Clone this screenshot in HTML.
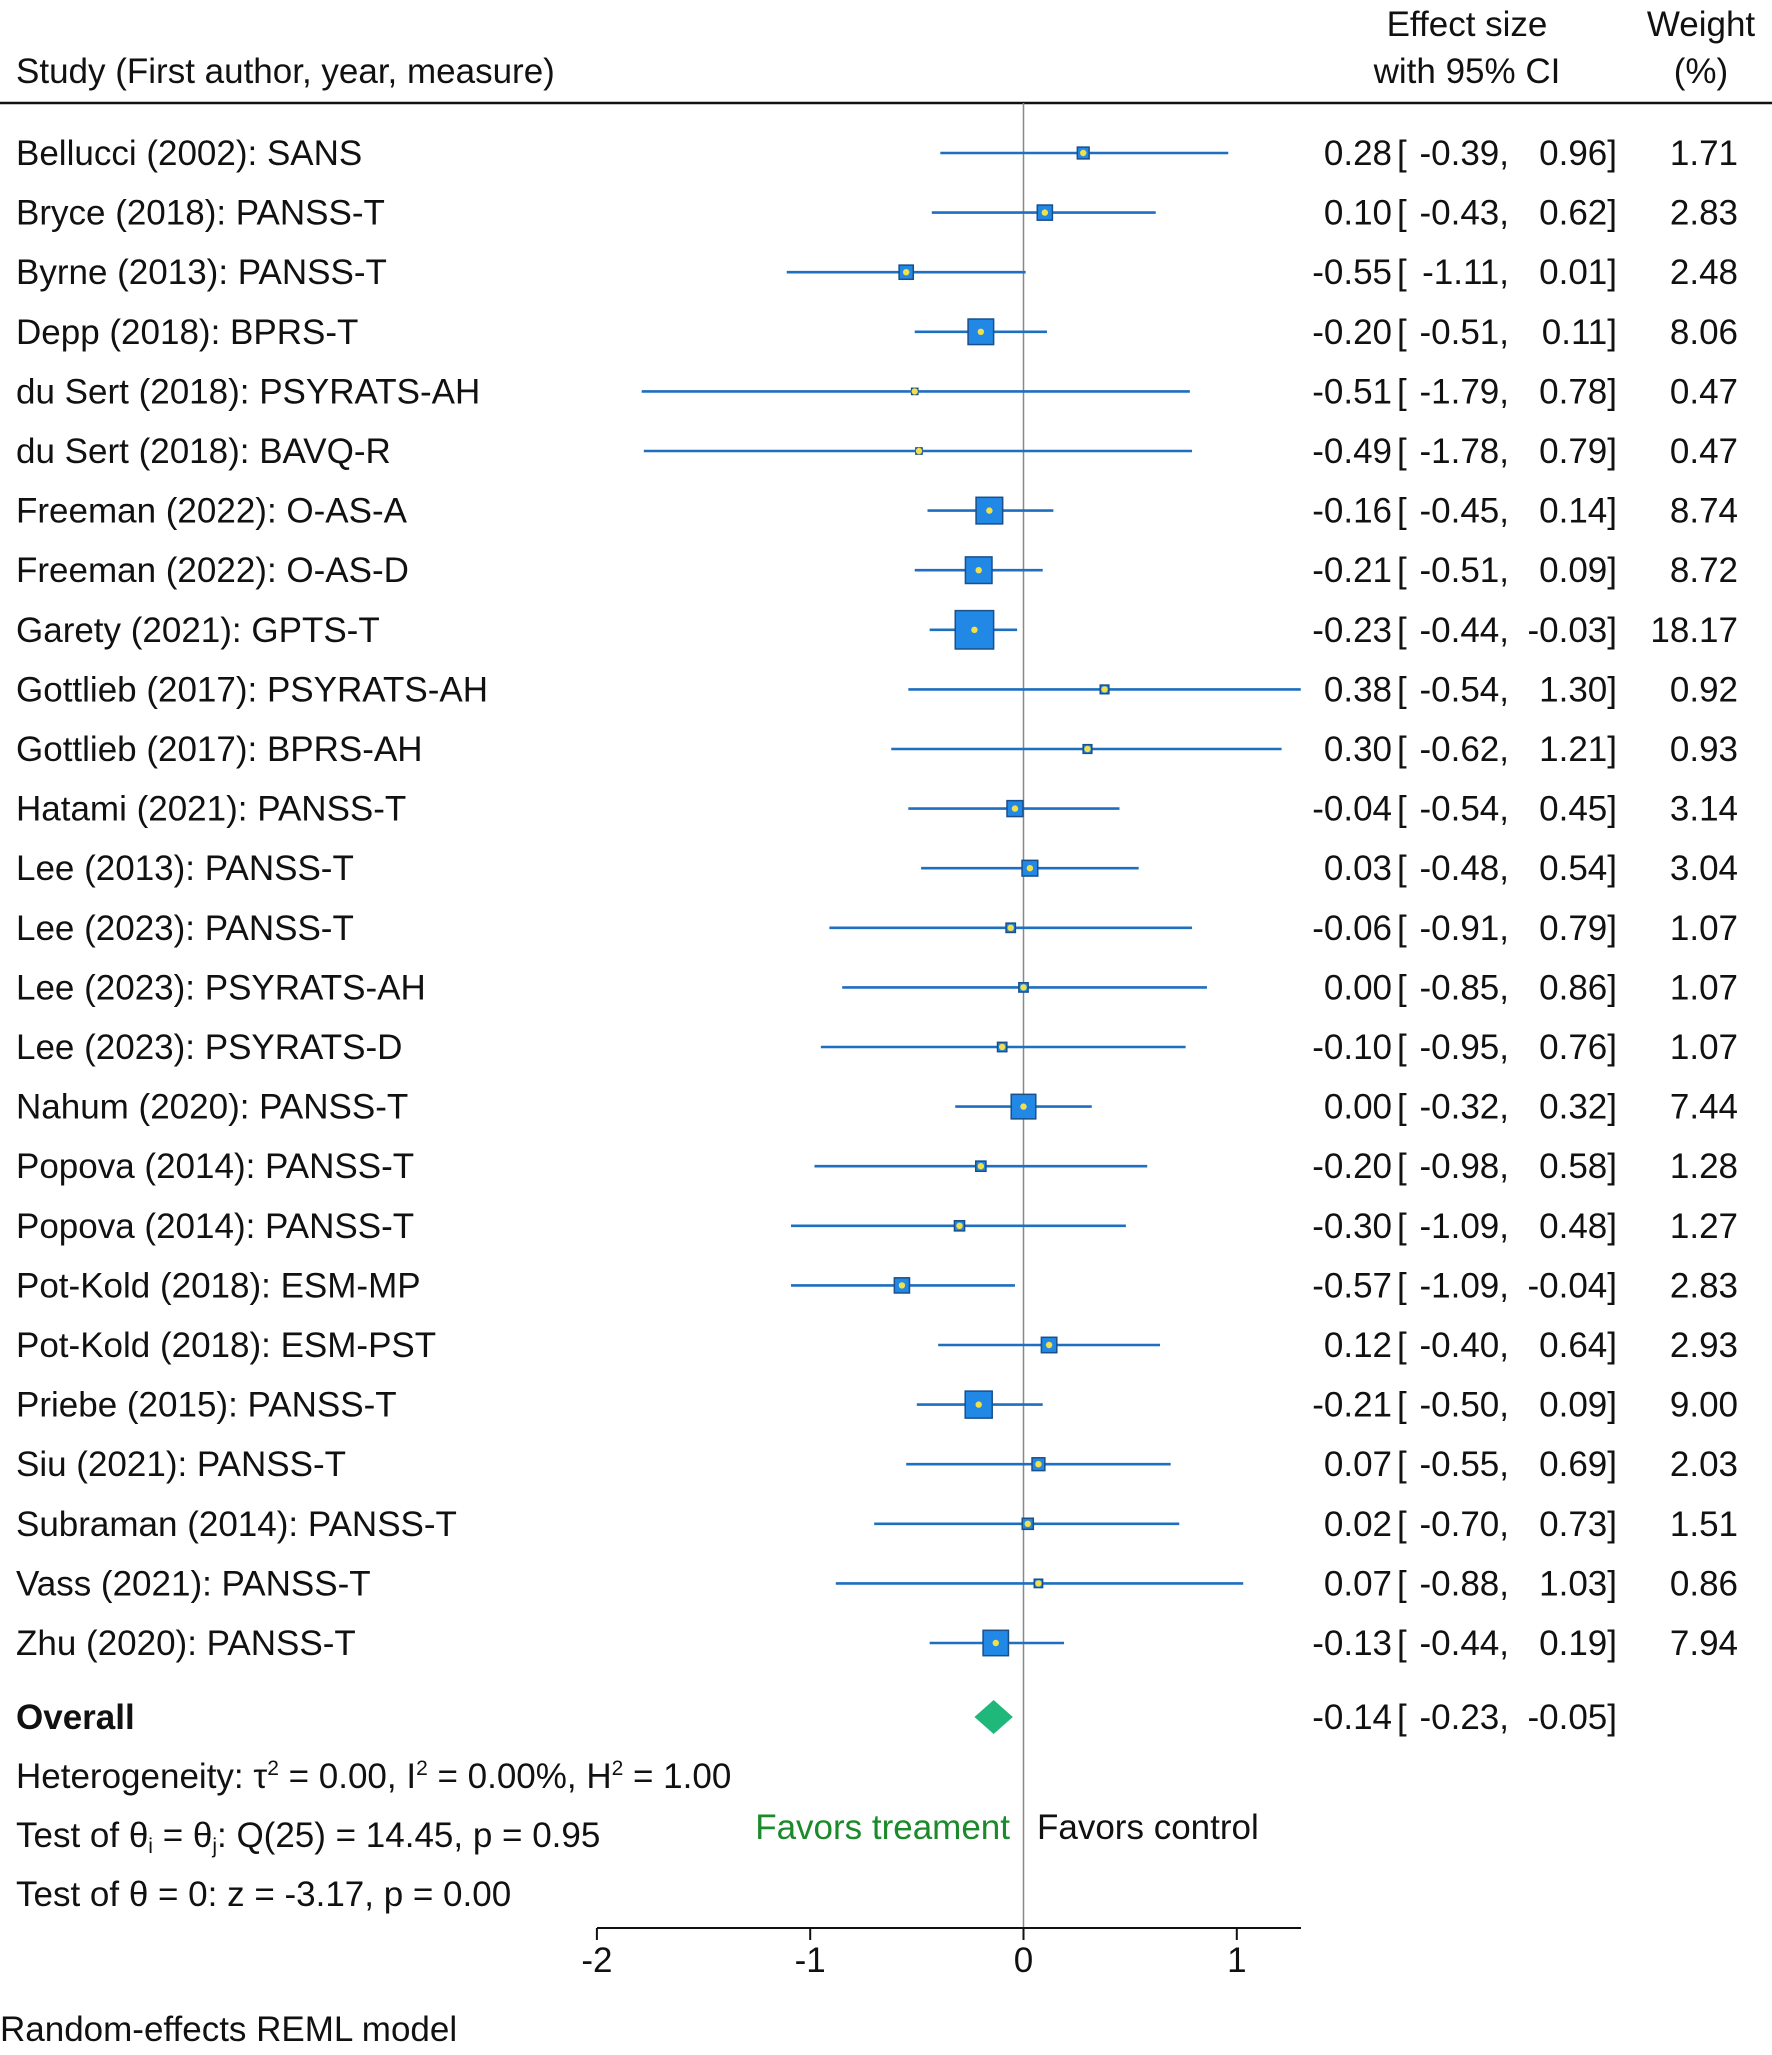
<!DOCTYPE html>
<html><head><meta charset="utf-8"><style>
html,body{margin:0;padding:0;background:#fff}
svg{display:block;font-family:"Liberation Sans",Arial,sans-serif}
text{font-size:35px;fill:#111}
</style></head><body>
<svg id="chart" width="1772" height="2055" viewBox="0 0 1772 2055" xmlns="http://www.w3.org/2000/svg">
<g>
<text x="16" y="83">Study (First author, year, measure)</text>
<text x="1467" y="36" text-anchor="middle">Effect size</text>
<text x="1467" y="83" text-anchor="middle">with 95% CI</text>
<text x="1701" y="36" text-anchor="middle">Weight</text>
<text x="1701" y="83" text-anchor="middle">(%)</text>
<line x1="0" y1="103" x2="1772" y2="103" stroke="#111" stroke-width="2.5"/>
</g>
<line x1="1023.5" y1="103" x2="1023.5" y2="1928" stroke="#888" stroke-width="1.5"/>
<g id="rows"></g>
<g id="axis"></g>
<g>
<text x="16" y="1729" font-weight="bold">Overall</text>
<text x="16" y="1788">Heterogeneity: τ<tspan dy="-13" font-size="21">2</tspan><tspan dy="13"> = 0.00, I</tspan><tspan dy="-13" font-size="21">2</tspan><tspan dy="13"> = 0.00%, H</tspan><tspan dy="-13" font-size="21">2</tspan><tspan dy="13"> = 1.00</tspan></text>
<text x="16" y="1847">Test of θ<tspan dy="6" font-size="21">i</tspan><tspan dy="-6"> = θ</tspan><tspan dy="6" font-size="21">j</tspan><tspan dy="-6">: Q(25) = 14.45, p = 0.95</tspan></text>
<text x="16" y="1906">Test of θ = 0: z = -3.17, p = 0.00</text>
<text x="1010" y="1839" text-anchor="end" style="fill:#1a8a2a">Favors treament</text>
<text x="1037" y="1839">Favors control</text>
<text x="0" y="2041">Random-effects REML model</text>
</g>
</svg>
<script>
const studies=["Bellucci (2002): SANS","Bryce (2018): PANSS-T","Byrne (2013): PANSS-T","Depp (2018): BPRS-T","du Sert (2018): PSYRATS-AH","du Sert (2018): BAVQ-R","Freeman (2022): O-AS-A","Freeman (2022): O-AS-D","Garety (2021): GPTS-T","Gottlieb (2017): PSYRATS-AH","Gottlieb (2017): BPRS-AH","Hatami (2021): PANSS-T","Lee (2013): PANSS-T","Lee (2023): PANSS-T","Lee (2023): PSYRATS-AH","Lee (2023): PSYRATS-D","Nahum (2020): PANSS-T","Popova (2014): PANSS-T","Popova (2014): PANSS-T","Pot-Kold (2018): ESM-MP","Pot-Kold (2018): ESM-PST","Priebe (2015): PANSS-T","Siu (2021): PANSS-T","Subraman (2014): PANSS-T","Vass (2021): PANSS-T","Zhu (2020): PANSS-T"];
const effects=[0.28,0.10,-0.55,-0.20,-0.51,-0.49,-0.16,-0.21,-0.23,0.38,0.30,-0.04,0.03,-0.06,0.00,-0.10,0.00,-0.20,-0.30,-0.57,0.12,-0.21,0.07,0.02,0.07,-0.13];
const lowers=[-0.39,-0.43,-1.11,-0.51,-1.79,-1.78,-0.45,-0.51,-0.44,-0.54,-0.62,-0.54,-0.48,-0.91,-0.85,-0.95,-0.32,-0.98,-1.09,-1.09,-0.40,-0.50,-0.55,-0.70,-0.88,-0.44];
const uppers=[0.96,0.62,0.01,0.11,0.78,0.79,0.14,0.09,-0.03,1.30,1.21,0.45,0.54,0.79,0.86,0.76,0.32,0.58,0.48,-0.04,0.64,0.09,0.69,0.73,1.03,0.19];
const weights=[1.71,2.83,2.48,8.06,0.47,0.47,8.74,8.72,18.17,0.92,0.93,3.14,3.04,1.07,1.07,1.07,7.44,1.28,1.27,2.83,2.93,9.00,2.03,1.51,0.86,7.94];
const overall=[-0.14,-0.23,-0.05];
const ticks=[-2,-1,0,1];
const NS="http://www.w3.org/2000/svg";
const X=v=>1023.5+v*213.3;
const Y=i=>153+i*59.6;
const f=v=>v.toFixed(2);
function mk(tag,attrs,parent,txt){const e=document.createElementNS(NS,tag);for(const k in attrs)e.setAttribute(k,attrs[k]);if(txt!==undefined)e.textContent=txt;parent.appendChild(e);return e;}
const rows=document.getElementById('rows');
studies.forEach((s,i)=>{
 const y=Y(i);
 const g=mk('g',{},rows);
 
 
 const t=mk('text',{x:16,y:y+12},g,s);
 
 
 const l=mk('line',{x1:X(lowers[i]),x2:X(uppers[i]),y1:y,y2:y,stroke:'#1f6fc0','stroke-width':2.6},g);
 
 
 const sz=Math.max(4,9*Math.sqrt(weights[i]));
 const b=mk('rect',{x:X(effects[i])-sz/2,y:y-sz/2,width:sz,height:sz,fill:'#2188e6',stroke:'#1a4f8a','stroke-width':1.5},g);
 
 
 const d=mk('circle',{cx:X(effects[i]),cy:y,r:3.2,fill:'#f2e04a'},g);
 
 
 const e=mk('text',{x:1392,y:y+12,'text-anchor':'end'},g,f(effects[i]));
 
 
 const br=mk('text',{x:1397,y:y+12},g,'[');
 
 
 const lo=mk('text',{x:1509,y:y+12,'text-anchor':'end'},g,f(lowers[i])+',');
 
 
 const up=mk('text',{x:1617,y:y+12,'text-anchor':'end'},g,f(uppers[i])+']');
 
 
 const w=mk('text',{x:1738,y:y+12,'text-anchor':'end'},g,f(weights[i]));
 
 
});
const oy=1717;
const dm=mk('polygon',{points:`${X(overall[1])},${oy} ${X(overall[0])},${oy-17} ${X(overall[2])},${oy} ${X(overall[0])},${oy+17}`,fill:'#1fb87a'},rows);


const oe=mk('text',{x:1392,y:oy+12,'text-anchor':'end'},rows,f(overall[0]));


const ob=mk('text',{x:1397,y:oy+12},rows,'[');


const ol=mk('text',{x:1509,y:oy+12,'text-anchor':'end'},rows,f(overall[1])+',');


const ou=mk('text',{x:1617,y:oy+12,'text-anchor':'end'},rows,f(overall[2])+']');


const ax=document.getElementById('axis');
const al=mk('line',{x1:597,x2:1301,y1:1928,y2:1928,stroke:'#111','stroke-width':2},ax);


ticks.forEach(t=>{
 const tk=mk('line',{x1:X(t),x2:X(t),y1:1928,y2:1940,stroke:'#111','stroke-width':2},ax);
 
 
 const tl=mk('text',{x:X(t),y:1972,'text-anchor':'middle'},ax,String(t));
 
 
});
</script>
</body></html>
